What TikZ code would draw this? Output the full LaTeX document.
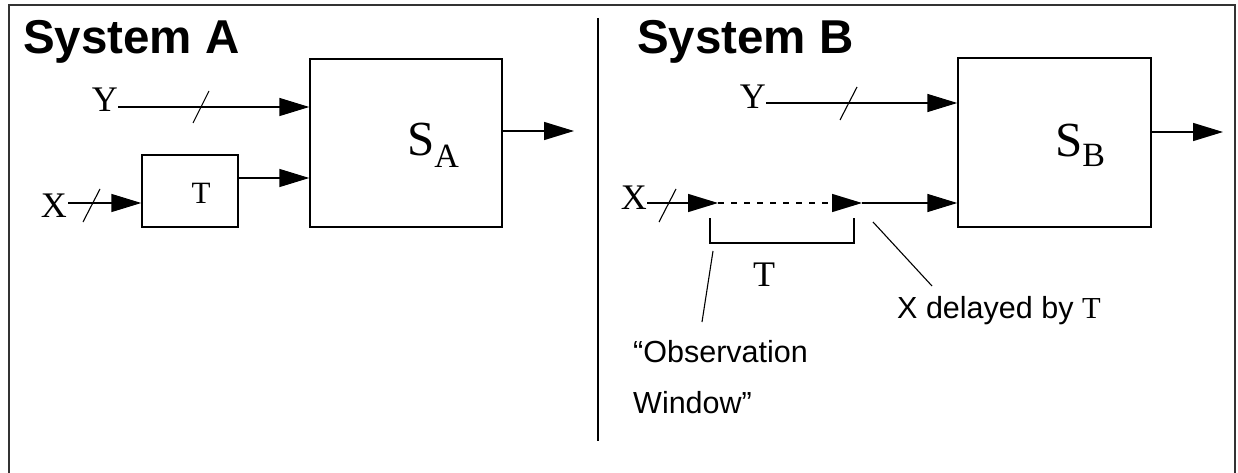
\documentclass[tikz,border=0pt]{standalone}
\usepackage{fontspec}
\setmainfont{Liberation Serif}
\setsansfont{Liberation Sans}
\usetikzlibrary{arrows.meta}
\begin{document}
\begin{tikzpicture}[x=1pt,y=-1pt,
  wire/.style={line width=1.4pt},
  arr/.style={wire,-{Triangle[length=30pt,width=18pt]}},
  blk/.style={draw,line width=1.4pt,inner sep=0pt,minimum width=#1},
  lbl/.style={inner sep=0pt,font=\fontsize{36}{36}\selectfont},
  ttl/.style={inner sep=0pt,anchor=base west,font=\sffamily\bfseries\fontsize{47.5}{47.5}\selectfont},
  note/.style={inner sep=0pt,anchor=base west,font=\sffamily\fontsize{30.5}{30.5}\selectfont},
  slash/.style={line width=1.1pt}]
\useasboundingbox (0,0) rectangle (1238,473);
% frame and divider
\draw[line width=2.2pt,black!80] (9,473) -- (9,5) -- (1235,5) -- (1235,473);
\draw[line width=1.3pt] (598,18) -- (598,441);
% titles
\node[ttl] (ta) at (23,54) {System A};
\node[ttl] (tb) at (637,54) {System B};
% ---------------- System A
\node[blk=192pt,minimum height=168pt] (sa) at (406,143) {};
\node[inner sep=0pt,anchor=base west] (sal) at (407,156) {\fontsize{49}{49}\selectfont S\raisebox{-12pt}{\fontsize{34}{34}\selectfont A}};
\node[blk=96pt,minimum height=72pt] (tbox) at (190,191) {};
\node[lbl,anchor=base,font=\fontsize{31}{31}\selectfont] (tl) at (201,203) {T};
\node[lbl,anchor=base east] (ya) at (118,112) {Y};
\node[lbl,anchor=base east] (xa) at (67,217) {X};
\coordinate (ya0) at (118,107);
\coordinate (xa0) at (68,203);
\draw[arr] (ya0) -- (ya0 -| sa.west);
\draw[arr] (xa0) -- (xa0 -| tbox.west);
\coordinate (ta0) at (238,178);
\draw[arr] (ta0) -- (ta0 -| sa.west);
\coordinate (sao) at (502,131);
\draw[arr] (sao) -- (574,131);
\draw[slash] (193,123) -- (209,91);
\draw[slash] (83,222) -- (100,189);
% ---------------- System B
\node[blk=193pt,minimum height=169pt] (sb) at (1054.5,142.5) {};
\node[inner sep=0pt,anchor=base west] (sbl) at (1055,157) {\fontsize{49}{49}\selectfont S\raisebox{-10pt}{\fontsize{34}{34}\selectfont B}};
\node[lbl,anchor=base east] (yb) at (766,109) {Y};
\node[lbl,anchor=base east] (xb) at (647,209) {X};
\coordinate (yb0) at (766,103);
\draw[arr] (yb0) -- (yb0 -| sb.west);
\draw[slash] (840,120) -- (857,87);
\coordinate (xb0) at (647,203);
\coordinate (xb1) at (718,203);
\coordinate (xb2) at (862,203);
\draw[arr] (xb0) -- (xb1);
\draw[wire,dash pattern=on 6pt off 7pt,-{Triangle[length=30pt,width=18pt]}] (xb1) -- (xb2);
\draw[arr] (xb2) -- (xb2 -| sb.west);
\draw[slash] (659,222) -- (676,189);
\coordinate (sbo) at (1151,132);
\draw[arr] (sbo) -- (1223,132);
% bracket
\draw[wire] (710,218) -- (710,243) -- (854,243) -- (854,218);
\node[lbl,anchor=base] (tw) at (764,286) {T};
% notes
\node[note] (obs1) at (633,362) {“Observation};
\node[note] (obs2) at (633,413) {Window”};
\node[note] (xd) at (897,318) {X delayed by \rmfamily T};
\draw[slash] (713,251) -- (702,322);
\draw[slash] (873,222) -- (932,286);
\end{tikzpicture}
\end{document}
